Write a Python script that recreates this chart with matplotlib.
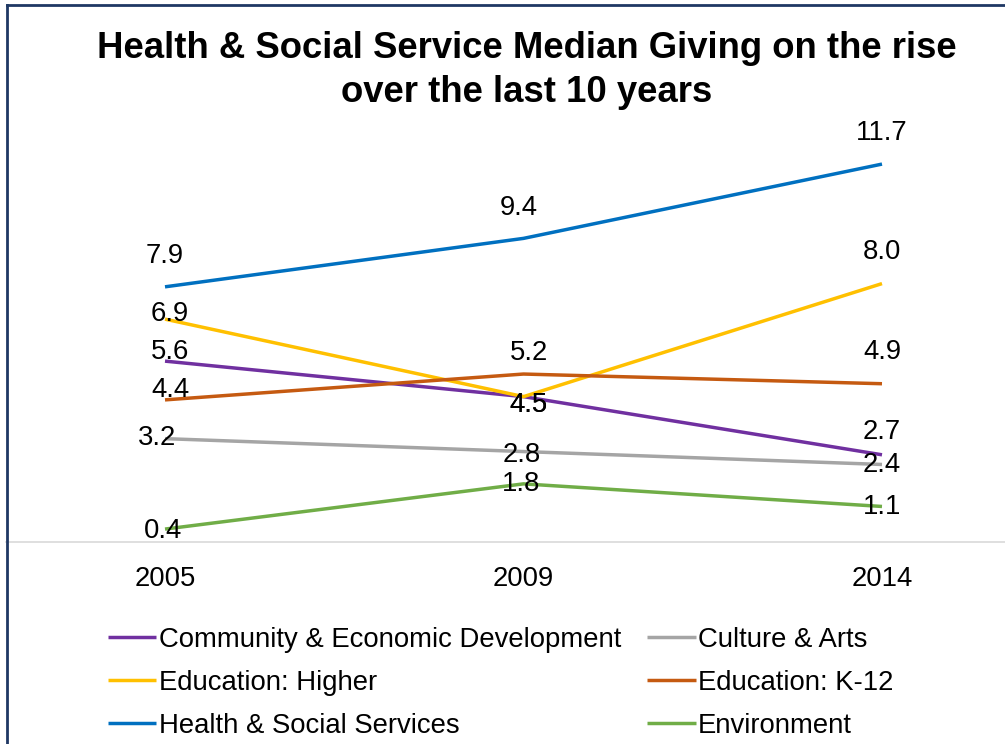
import matplotlib.pyplot as plt
from matplotlib.lines import Line2D

plt.rcParams['font.family'] = ['Liberation Sans', 'DejaVu Sans']

years = ["2005", "2009", "2014"]
series_names = ["Community & Economic Development", "Culture & Arts",
                "Education: Higher", "Education: K-12",
                "Health & Social Services", "Environment"]
community = [5.6, 4.5, 2.7]
culture = [3.2, 2.8, 2.4]
edu_higher = [6.9, 4.5, 8.0]
edu_k12 = [4.4, 5.2, 4.9]
health = [7.9, 9.4, 11.7]
environment = [0.4, 1.8, 1.1]

colors = ["#7030A0", "#A5A5A5", "#FFC000", "#C55A11", "#0070C0", "#70AD47"]

# label nudges in pixels (dx, dy up), per series per year
nudges = [
    [(5, 9), (5, -8), (0, 23)],
    [(-8, 1), (-2, -3), (0, -1)],
    [(5, 5), (5, -8), (0, 32)],
    [(5, 10), (5, 21), (0, 32)],
    [(0, 31), (-5, 30), (0, 31)],
    [(-2, -2), (-2, 0), (0, -1)],
]

W, H = 1005, 744
fig = plt.figure(figsize=(W / 100, H / 100), dpi=100)

# plot area: categories at 165, 527, 882 px; baseline at y=542 px
left, right, top, bottom = 6, 1005, 120, 542
ax = fig.add_axes([left / W, 1 - bottom / H, (right - left) / W, (bottom - top) / H])
step = (882 - 165) / 2
ax.set_xlim(-(165 - left) / step, 2 + (right - 882) / step)
ax.set_ylim(0, (bottom - top) / 32.3)

fs = 19.8
data = [community, culture, edu_higher, edu_k12, health, environment]
x = range(len(years))
for vals, name, c, nd in zip(data, series_names, colors, nudges):
    ax.plot(x, vals, color=c, linewidth=2.5, label=name, solid_capstyle='butt', clip_on=False)
    for xi, v, (dx, dy) in zip(x, vals, nd):
        ax.annotate(f"{v:.1f}", (xi, v), xytext=(dx * 0.72, dy * 0.72),
                    textcoords='offset points', ha='center', va='center',
                    fontsize=fs, color='black', zorder=5, annotation_clip=False)

for s in ["left", "right", "top"]:
    ax.spines[s].set_visible(False)
ax.spines["bottom"].set_color("#D9D9D9")
ax.spines["bottom"].set_linewidth(1.2)
ax.set_yticks([])
ax.set_xticks(list(x))
ax.set_xticklabels(years, fontsize=fs)
ax.tick_params(axis='x', length=0, pad=17)

fig.text(527 / W, 1 - 49 / H, "Health & Social Service Median Giving on the rise",
         ha='center', va='center', fontsize=26.3, fontweight='bold')
fig.text(527 / W, 1 - 92 / H, "over the last 10 years",
         ha='center', va='center', fontsize=26.3, fontweight='bold')

handles, labels = ax.get_legend_handles_labels()
order = [0, 2, 4, 1, 3, 5]
fig.legend([handles[i] for i in order], [labels[i] for i in order],
           loc='upper left', bbox_to_anchor=(108 / W, 1 - 627 / H), ncol=2,
           frameon=False, fontsize=fs, handlelength=1.75, handletextpad=0.1,
           columnspacing=0.95, labelspacing=0.62, borderpad=0, borderaxespad=0)

# chart border (left and top edges visible)
fig.add_artist(Line2D([6.5 / W, 6.5 / W], [0, 1 - 5 / H], color="#1F3864", linewidth=2,
                      transform=fig.transFigure))
fig.add_artist(Line2D([6.5 / W, 1], [1 - 5 / H, 1 - 5 / H], color="#1F3864", linewidth=2,
                      transform=fig.transFigure))

fig.savefig("out.png", dpi=100)
